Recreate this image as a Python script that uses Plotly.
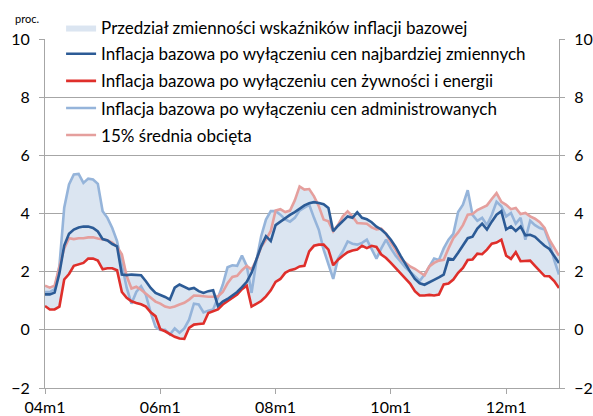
import numpy as np
import plotly.graph_objects as go

# categories: monthly 2004m1 .. 2012m12
months = [f"{y:02d}m{m}" for y in range(4, 13) for m in range(1, 13)]
tick_labels = ["04m1", "06m1", "08m1", "10m1", "12m1"]
y_ticks = [-2, 0, 2, 4, 6, 8, 10]

# Inflacja bazowa po wyłączeniu cen najbardziej zmiennych
most_volatile = [
    1.22, 1.22, 1.28, 1.95, 2.9, 3.3, 3.45, 3.52, 3.55, 3.55,
    3.5, 3.38, 3.12, 3.07, 2.95, 2.87, 1.9, 1.88, 1.9, 1.9,
    1.88, 1.67, 1.44, 1.27, 1.21, 1.13, 1.04, 1.45, 1.56, 1.48,
    1.4, 1.44, 1.33, 1.27, 1.33, 1.36, 0.82, 0.97, 1.06, 1.18,
    1.3, 1.47, 1.65, 1.96, 2.41, 2.87, 3.22, 3.05, 3.6, 3.72,
    3.85, 3.95, 4.05, 4.18, 4.28, 4.35, 4.39, 4.36, 4.32, 4.19,
    3.39, 3.58, 3.75, 3.9, 3.85, 4.04, 3.85, 3.8, 3.7, 3.55,
    3.45, 3.3, 3.1, 2.85, 2.55, 2.25, 2.0, 1.75, 1.6, 1.55,
    1.65, 1.72, 1.8, 1.9, 2.45, 2.42, 2.65, 2.88, 3.15, 3.2,
    3.48, 3.65, 3.45, 3.72, 3.96, 4.08, 3.45, 3.56, 3.4, 3.55,
    3.25, 3.27, 3.2, 3.04, 2.89, 2.78, 2.53, 2.3,
]

# Inflacja bazowa po wyłączeniu cen żywności i energii
food_energy = [
    0.82, 0.7, 0.7, 0.8, 1.73, 1.92, 2.2, 2.25, 2.3, 2.45,
    2.45, 2.38, 2.08, 2.12, 2.12, 2.05, 1.3, 1.1, 0.98, 0.92,
    0.88, 0.8, 0.6, 0.47, 0.02, -0.05, -0.16, -0.24, -0.3, -0.31,
    0.07, 0.18, 0.2, 0.22, 0.58, 0.65, 0.7, 0.87, 0.98, 1.07,
    1.21, 1.4, 1.52, 0.8, 0.9, 0.99, 1.15, 1.36, 1.65, 1.75,
    1.96, 2.05, 2.09, 2.18, 2.2, 2.7, 2.89, 2.93, 2.93, 2.76,
    2.22, 2.41, 2.55, 2.67, 2.73, 2.76, 2.89, 2.81, 2.89, 2.85,
    2.59, 2.47, 2.3, 2.13, 1.96, 1.78, 1.59, 1.33, 1.18, 1.18,
    1.2, 1.18, 1.21, 1.56, 1.59, 1.73, 1.96, 2.13, 2.4, 2.42,
    2.62, 2.6, 2.76, 2.96, 3.0, 3.1, 2.55, 2.44, 2.67, 2.36,
    2.36, 2.38, 2.2, 2.02, 1.85, 1.84, 1.68, 1.44,
]

# Inflacja bazowa po wyłączeniu cen administrowanych
administered = [
    1.3, 1.3, 1.4, 2.2, 4.2, 5.0, 5.34, 5.36, 5.05, 5.2,
    5.17, 5.02, 4.08, 3.85, 3.5, 3.05, 2.24, 1.45, 0.9, 1.3,
    1.5, 1.2, 0.6, 0.1, 0.0, 0.0, -0.16, 0.05, -0.1, 0.05,
    0.35, 0.9, 0.87, 0.6, 0.66, 0.7, 1.1, 1.55, 2.15, 2.22,
    2.2, 2.55, 2.2, 1.27, 2.36, 3.22, 3.79, 4.08, 4.08, 3.96,
    3.8, 3.72, 3.85, 4.1, 4.2, 4.3, 3.85, 3.44, 2.76, 2.25,
    1.75, 2.45, 2.7, 3.04, 2.96, 2.93, 2.99, 3.1, 2.76, 2.45,
    2.8, 3.1, 2.8, 2.55, 2.35, 2.15, 2.0, 1.85, 1.68, 1.9,
    2.2, 2.45, 2.4, 2.8, 3.1, 3.3, 4.05, 4.3, 4.8, 3.95,
    3.75, 3.85, 3.6, 3.95, 4.4, 4.25, 3.9, 4.02, 3.65, 3.85,
    3.1, 3.75, 3.6, 3.5, 3.45, 3.0, 2.4, 1.9,
]

# 15% średnia obcięta
trimmed_mean = [
    1.52, 1.45, 1.52, 2.15, 2.8, 3.15, 3.12, 3.15, 3.15, 3.18,
    3.18, 3.14, 3.1, 3.08, 3.0, 2.85, 2.6, 1.85, 1.42, 1.48,
    1.38, 1.25, 1.13, 0.97, 0.9, 0.8, 0.76, 0.8, 0.87, 0.93,
    1.04, 1.18, 1.17, 1.15, 1.14, 1.14, 1.15, 1.3, 1.6, 1.82,
    1.86, 2.05, 2.2, 2.07, 2.4, 2.85, 3.1, 3.4, 4.1, 4.15,
    4.05, 4.1, 4.45, 4.93, 4.82, 4.84, 4.59, 4.25, 3.79, 3.73,
    3.39, 3.61, 3.9, 4.07, 3.9, 3.67, 3.65, 3.65, 3.52, 3.45,
    3.48, 3.3, 3.0, 2.75, 2.45, 2.3, 2.18, 2.1, 2.0, 1.87,
    2.18, 2.3, 2.38, 2.41, 2.8, 3.15, 3.35, 3.6, 3.96, 3.98,
    4.12, 4.19, 4.28, 4.5, 4.7, 4.4, 4.3, 4.15, 4.19, 3.98,
    4.02, 3.9, 3.82, 3.7, 3.5, 3.1, 2.8, 2.55,
]

for s in (most_volatile, food_energy, administered, trimmed_mean):
    assert len(s) == len(months)

# range of the core inflation measures (envelope)
all_measures = np.array([most_volatile, food_energy, administered, trimmed_mean])
band_low = all_measures.min(axis=0)
band_high = all_measures.max(axis=0)

FONT = "Lato, 'Open Sans', sans-serif"
C_BAND = "#dbe5f1"
C_DARK = "#2c5b96"
C_RED = "#df2f2b"
C_LIGHT = "#95b4da"
C_PINK = "#e59f9d"
GRID = "#a6a6a6"
LW = 2.6

fig = go.Figure()
fig.add_trace(go.Scatter(
    x=months, y=band_low, mode="lines", line=dict(width=0, color=C_BAND),
    showlegend=False, hoverinfo="skip", legend="legend2"))
fig.add_trace(go.Scatter(
    x=months, y=band_high, mode="lines", line=dict(width=0, color=C_BAND),
    fill="tonexty", fillcolor=C_BAND, legend="legend2",
    name="Przedział zmienności wskaźników inflacji bazowej"))
fig.add_trace(go.Scatter(
    x=months, y=administered, mode="lines", line=dict(width=LW, color=C_LIGHT),
    legendrank=4, legendgroup="g3",
    name="Inflacja bazowa po wyłączeniu cen administrowanych"))
fig.add_trace(go.Scatter(
    x=months, y=trimmed_mean, mode="lines", line=dict(width=LW, color=C_PINK),
    legendrank=5, legendgroup="g4", name="15% średnia obcięta"))
fig.add_trace(go.Scatter(
    x=months, y=food_energy, mode="lines", line=dict(width=LW, color=C_RED),
    legendrank=3, legendgroup="g2",
    name="Inflacja bazowa po wyłączeniu cen żywności i energii"))
fig.add_trace(go.Scatter(
    x=months, y=most_volatile, mode="lines", line=dict(width=LW, color=C_DARK),
    legendrank=2, legendgroup="g1",
    name="Inflacja bazowa po wyłączeniu cen najbardziej zmiennych"))
# carrier for the right-hand axis (invisible)
fig.add_trace(go.Scatter(
    x=months, y=most_volatile, yaxis="y2", mode="lines",
    line=dict(width=0, color="rgba(0,0,0,0)"), showlegend=False,
    hoverinfo="skip"))

legend_common = dict(
    xref="container", yref="container", xanchor="left", yanchor="top",
    bgcolor="rgba(0,0,0,0)", borderwidth=0,
    font=dict(family=FONT, size=17, color="#000000"), itemwidth=30,
)

fig.update_layout(
    width=593, height=416,
    margin=dict(l=45, r=34, t=39, b=28, pad=0, autoexpand=False),
    paper_bgcolor="white", plot_bgcolor="white",
    font=dict(family=FONT, size=16, color="#000000"),
    showlegend=True,
    legend=dict(x=0.103, y=0.913, traceorder="grouped", tracegroupgap=2,
                **legend_common),
    legend2=dict(x=0.103, y=0.976, **legend_common),
    xaxis=dict(
        type="category", range=[0, len(months) - 1],
        tickmode="array", tickvals=tick_labels, ticktext=tick_labels,
        showgrid=False, showline=True, linecolor=GRID, linewidth=1,
        ticks="outside", ticklen=5, tickcolor=GRID,
        tickfont=dict(family=FONT, size=16), zeroline=False,
    ),
    yaxis=dict(
        range=[-2, 10], tickvals=y_ticks, showgrid=True, gridcolor=GRID,
        gridwidth=1, zeroline=False, showline=True, linecolor=GRID,
        ticks="outside", ticklen=5, tickcolor=GRID, ticklabelstandoff=6,
        tickfont=dict(family=FONT, size=16),
    ),
    yaxis2=dict(
        range=[-2, 10], tickvals=y_ticks, overlaying="y", side="right",
        showgrid=False, zeroline=False, showline=True, linecolor=GRID,
        ticks="outside", ticklen=5, tickcolor=GRID, ticklabelstandoff=6,
        tickfont=dict(family=FONT, size=16),
    ),
    annotations=[dict(
        text="proc.", xref="paper", yref="paper", x=-0.062, y=1.035,
        xanchor="left", yanchor="bottom", showarrow=False,
        font=dict(family=FONT, size=11),
    )],
)

fig.write_html("out.html", config={"displayModeBar": False},
               post_script="document.body.style.margin='0';")
